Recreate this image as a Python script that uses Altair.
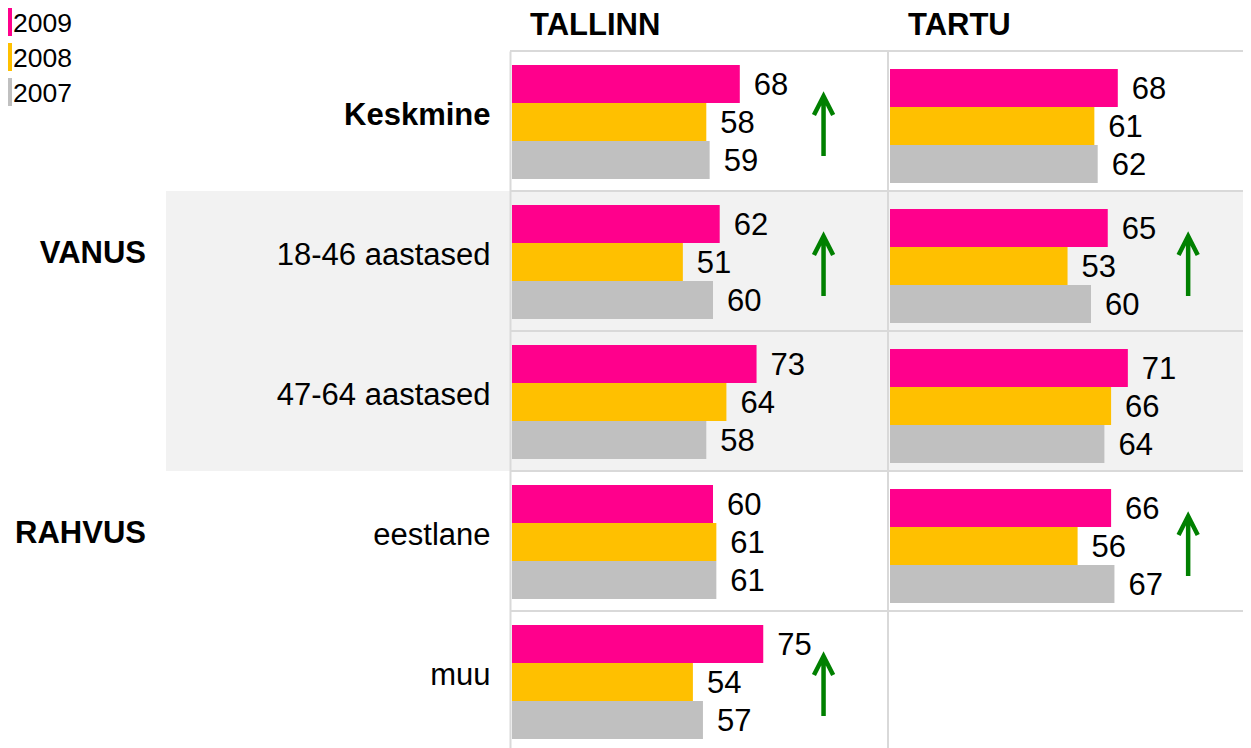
import altair as alt
import pandas as pd

# ---------------- data ----------------
categories = ["Keskmine", "18-46 aastased", "47-64 aastased", "eestlane", "muu"]
group_of = ["", "VANUS", "VANUS", "RAHVUS", "RAHVUS"]
shaded_group = "VANUS"
years = ["2009", "2008", "2007"]
cities = ["TALLINN", "TARTU"]

tallinn_2009 = [68, 62, 73, 60, 75]
tallinn_2008 = [58, 51, 64, 61, 54]
tallinn_2007 = [59, 60, 58, 61, 57]
tartu_2009 = [68, 65, 71, 66, None]
tartu_2008 = [61, 53, 66, 56, None]
tartu_2007 = [62, 60, 64, 67, None]

tallinn_up = [True, True, False, False, True]
tartu_up = [False, True, False, True, False]

# ---------------- styles / layout ----------------
FONT = "Liberation Sans"
year_colors = ["#FF008C", "#FFC000", "#C0C0C0"]
GREEN = "#008000"
LINE = "#D9D9D9"
BAND = "#F2F2F2"
W, H = 733, 697
PAD_L, PAD_T = 502, 43
ROWS_RANGE = [0, 700]
LEGEND_RANGE = [-46.5, 58.5]
ARROW_PATH = "M0,1.17L0,-0.83M-0.32,-0.2L0,-0.83L0.32,-0.2"

series = {
    "TALLINN": {"2009": tallinn_2009, "2008": tallinn_2008, "2007": tallinn_2007},
    "TARTU": {"2009": tartu_2009, "2008": tartu_2008, "2007": tartu_2007},
}
ups = {"TALLINN": tallinn_up, "TARTU": tartu_up}

rows = []
for city in cities:
    for yr in years:
        for cat, v in zip(categories, series[city][yr]):
            if v is not None:
                rows.append({"city": city, "year": yr, "category": cat, "value": v})
df = pd.DataFrame(rows)

arrows = pd.DataFrame(
    [{"city": c, "category": cat} for c in cities for cat, u in zip(categories, ups[c]) if u]
)

groups = []
seen = set()
for cat, g in zip(categories, group_of):
    if g and g not in seen:
        seen.add(g)
        groups.append({"group": g, "category": cat})
groups_df = pd.DataFrame(groups)
shaded_df = pd.DataFrame(
    {"category": [c for c, g in zip(categories, group_of) if g == shaded_group]}
)
cat_df = pd.DataFrame({"category": categories})
year_df = pd.DataFrame({"year": years})

yscale = alt.Scale(domain=categories, range=ROWS_RANGE, paddingInner=0, paddingOuter=0)
yaxis = alt.Axis(
    title=None, grid=False,
    domain=True, domainColor=LINE, domainWidth=2, ticks=False, tickSize=0,
    labelPadding=20, labelOffset=4, labelBaseline="alphabetic",
    labelFontSize=31, labelFont=FONT,
    labelColor="black", labelLimit=400, labelOverlap=False,
    labelFontWeight=alt.condition("datum.value == 'Keskmine'", alt.value("bold"), alt.value("normal")),
    zindex=1,
)


def Y(**kw):
    return alt.Y("category:N", scale=yscale, axis=yaxis, **kw)


color = alt.Color("year:N", scale=alt.Scale(domain=years, range=year_colors), legend=None)

# ---------------- legend (drawn with its own band scale) ----------------
ly = alt.Y("year:N", scale=alt.Scale(domain=years, range=LEGEND_RANGE, paddingInner=0.2, paddingOuter=0.1), axis=None)
leg_sym = alt.Chart(year_df).mark_rect().encode(
    y=ly, x=alt.value(-502), x2=alt.value(-498), color=color
)
leg_txt = alt.Chart(year_df).mark_text(
    align="left", baseline="middle", dy=2, fontSize=26.5, font=FONT, color="black"
).encode(y=ly, x=alt.value(-497), text="year:N")
legend_layer = alt.layer(leg_sym, leg_txt)

# ---------------- background layer ----------------
band_rect = alt.Chart(shaded_df).mark_rect(color=BAND).encode(
    y=Y(), x=alt.value(-344), x2=alt.value(W)
)
hlines = alt.Chart(cat_df).mark_rule(color=LINE, strokeWidth=2).encode(
    y=Y(bandPosition=0), x=alt.value(0), x2=alt.value(W)
)
sep = alt.Chart(pd.DataFrame({"city": ["TARTU"]})).mark_rule(color=LINE, strokeWidth=2).encode(
    x=alt.value(378), y=alt.value(0), y2=alt.value(ROWS_RANGE[1])
)
group_text = alt.Chart(groups_df).mark_text(
    align="right", baseline="middle", dy=-7, fontSize=31, fontWeight="bold", font=FONT, color="black"
).encode(y=Y(), x=alt.value(-364), text="group:N")

base = alt.layer(band_rect, hlines, sep, group_text)


def city_layer(city, xrange, off_range, arrow_at):
    xs = alt.Scale(domain=[0, 100], range=xrange)
    d = df[df.city == city]
    yoff = alt.YOffset("year:N", scale=alt.Scale(domain=years, range=off_range, paddingInner=0, paddingOuter=0))
    bars = alt.Chart(d).mark_bar().encode(
        x=alt.X("value:Q", scale=xs, axis=None),
        y=Y(), yOffset=yoff, color=color,
    )
    labels = alt.Chart(d).mark_text(
        align="left", baseline="middle", dx=14, dy=2, fontSize=31, font=FONT, color="black"
    ).encode(
        x=alt.X("value:Q", scale=xs, axis=None), y=Y(), yOffset=yoff, text="value:Q"
    )
    arr = alt.Chart(arrows[arrows.city == city]).mark_point(
        shape=ARROW_PATH, size=3600, filled=False, stroke=GREEN, color=GREEN,
        strokeWidth=4.5, opacity=1, strokeCap="butt", strokeJoin="miter",
    ).encode(x=alt.X(datum=arrow_at, type="quantitative", scale=xs, axis=None), y=Y())
    header = alt.Chart(pd.DataFrame({"city": [city]})).mark_text(
        align="left", baseline="middle", dx=18, fontSize=31, fontWeight="bold", font=FONT, color="black"
    ).encode(
        x=alt.X(datum=0, type="quantitative", scale=xs, axis=None), y=alt.value(-25), text="city:N"
    )
    return alt.layer(bars, labels, arr, header)


tallinn = city_layer("TALLINN", [2, 337], [14, 128], 93)
tartu = city_layer("TARTU", [380, 715], [18, 132], 89)

main = alt.layer(base, tallinn, tartu).resolve_scale(x="independent", yOffset="independent")

chart = alt.layer(main, legend_layer).resolve_scale(y="independent").properties(
    width=W, height=H,
    autosize=alt.AutoSizeParams(type="none"),
    padding={"left": PAD_L, "top": PAD_T, "right": 0, "bottom": 0},
).configure_view(stroke=None).configure(background="white")

chart.save("out.html", embed_options={"renderer": "svg", "actions": False})
